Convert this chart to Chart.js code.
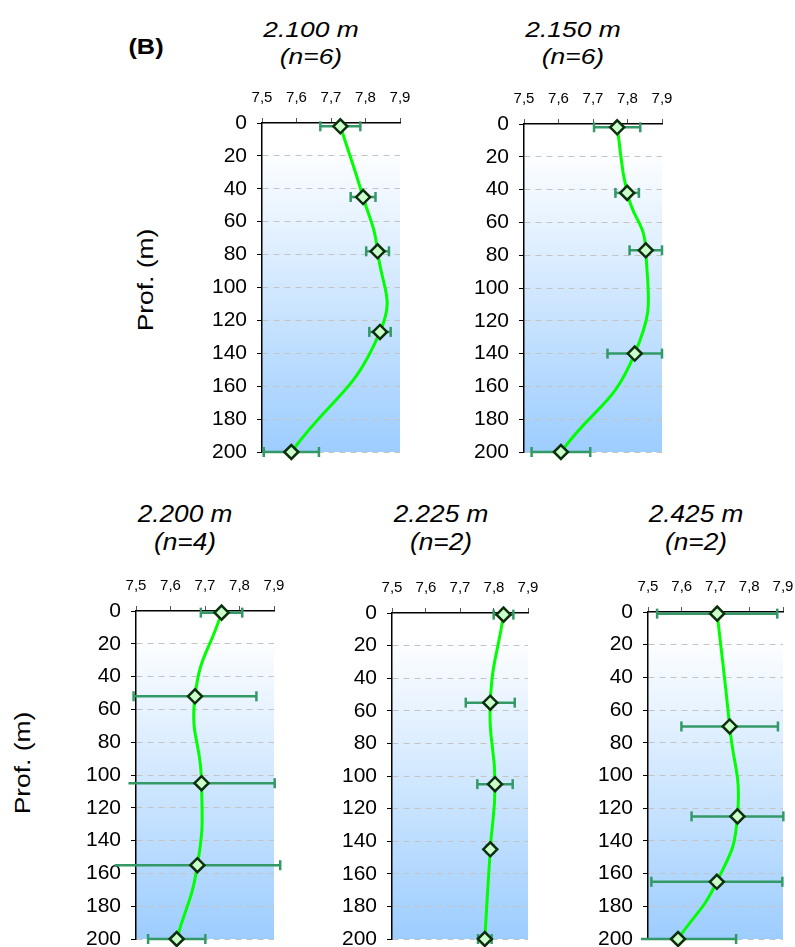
<!DOCTYPE html>
<html>
<head>
<meta charset="utf-8">
<script src="https://cdn.jsdelivr.net/npm/chart.js@4.4.0/dist/chart.umd.min.js"></script>
<style>
html, body { margin: 0; padding: 0; background: #fff; overflow: hidden; }
body { width: 795px; height: 947px; position: relative; font-family: "Liberation Sans", Arial, sans-serif; color: #000; }
.lbl { position: absolute; white-space: nowrap; transform-origin: center center; }
.title { font-style: italic; text-align: center; }
</style>
</head>
<body>
<script>
// pH profiles, depth 0-200 m
var titles = ['2.100 m', '2.150 m', '2.200 m', '2.225 m', '2.425 m'];
var counts = ['(n=6)', '(n=6)', '(n=4)', '(n=2)', '(n=2)'];

var depth2100 = [2, 45, 78, 127, 200];
var ph2100 = [7.727, 7.793, 7.835, 7.842, 7.585];
var sd2100 = [0.058, 0.036, 0.033, 0.031, 0.080];

var depth2150 = [2, 42, 77, 140, 200];
var ph2150 = [7.770, 7.799, 7.853, 7.821, 7.607];
var sd2150 = [0.067, 0.034, 0.047, 0.079, 0.085];

var depth2200 = [1, 52, 105, 155, 200];
var ph2200 = [7.748, 7.671, 7.690, 7.678, 7.618];
var sd2200 = [0.060, 0.178, 0.212, 0.240, 0.083];

var depth2225 = [1, 55, 105, 145, 200];
var ph2225 = [7.828, 7.789, 7.803, 7.789, 7.773];
var sd2225 = [0.029, 0.072, 0.052, 0.010, 0.020];

var depth2425 = [1, 70, 125, 165, 200];
var ph2425 = [7.705, 7.742, 7.765, 7.704, 7.589];
var sd2425 = [0.178, 0.143, 0.136, 0.194, 0.172];

var series = [
    { depth: depth2100, ph: ph2100, sd: sd2100 },
    { depth: depth2150, ph: ph2150, sd: sd2150 },
    { depth: depth2200, ph: ph2200, sd: sd2200 },
    { depth: depth2225, ph: ph2225, sd: sd2225 },
    { depth: depth2425, ph: ph2425, sd: sd2425 }
];

var phMin = 7.5, phMax = 7.9, phStep = 0.1;
var depthMin = 0, depthMax = 200, depthStep = 20;
var yAxisLabel = 'Prof. (m)';
var panelTag = '(B)';

// layout (px)
var AX = 60, HX = 38, PT = 2, PR = 25, PB = 26;
var panels = [
    { plotL: 262, plotR: 400, plotT: 123, plotB: 452, titleX: 311, row: 0, clipLeft: 7 },
    { plotL: 524, plotR: 662, plotT: 124, plotB: 452, titleX: 573, row: 0, clipLeft: 7 },
    { plotL: 136, plotR: 274, plotT: 611, plotB: 939, titleX: 185, row: 1, clipLeft: 26 },
    { plotL: 392, plotR: 528, plotT: 613, plotB: 939, titleX: 441, row: 1, clipLeft: 7 },
    { plotL: 648, plotR: 783, plotT: 612, plotB: 939, titleX: 696, row: 1, clipLeft: 7 }
];

var colors = {
    line: '#00ff00',
    markerFill: '#ccffcc',
    markerEdge: '#0b300b',
    errBar: '#339966',
    grid: '#c4c4c4',
    top: '#ffffff',
    bottom: '#9dcdff'
};

function addLabel(text, css) {
    var d = document.createElement('div');
    d.className = 'lbl';
    d.textContent = text;
    for (var k in css) d.style[k] = css[k];
    document.body.appendChild(d);
    return d;
}

var plotFill = {
    id: 'plotFill',
    beforeDraw: function(chart) {
        var a = chart.chartArea, ctx = chart.ctx;
        var g = ctx.createLinearGradient(0, a.top, 0, a.bottom);
        g.addColorStop(0, colors.top);
        g.addColorStop(0.07, colors.top);
        g.addColorStop(1, colors.bottom);
        ctx.save();
        ctx.fillStyle = g;
        ctx.fillRect(a.left, a.top, a.right - a.left, a.bottom - a.top);
        ctx.restore();
    }
};

Chart.defaults.font.family = '"Liberation Sans", Arial, sans-serif';
Chart.defaults.color = '#000';

panels.forEach(function(p, idx) {
    var s = series[idx];
    var cv = document.createElement('canvas');
    cv.width = AX + (p.plotR - p.plotL) + PR;
    cv.height = PT + HX + (p.plotB - p.plotT) + PB;
    cv.style.position = 'absolute';
    cv.style.left = (p.plotL - AX) + 'px';
    cv.style.top = (p.plotT - HX - PT) + 'px';
    document.body.appendChild(cv);

    var datasets = [{
        data: s.ph.map(function(v, i) { return { x: v, y: s.depth[i] }; }),
        showLine: true,
        tension: 0.5,
        borderColor: colors.line,
        borderWidth: 3,
        pointStyle: 'rectRot',
        pointRadius: 7,
        pointBackgroundColor: colors.markerFill,
        pointBorderColor: colors.markerEdge,
        pointBorderWidth: 2.5,
        clip: false,
        order: 0
    }];
    s.ph.forEach(function(v, i) {
        datasets.push({
            data: [{ x: v - s.sd[i], y: s.depth[i] }, { x: v + s.sd[i], y: s.depth[i] }],
            showLine: true,
            borderColor: colors.errBar,
            borderWidth: 2.5,
            pointStyle: 'line',
            rotation: 90,
            pointRadius: 5,
            pointBorderColor: colors.errBar,
            pointBorderWidth: 2.5,
            clip: { left: p.clipLeft, top: false, right: false, bottom: false },
            order: 1
        });
    });

    new Chart(cv, {
        type: 'scatter',
        data: { datasets: datasets },
        options: {
            responsive: false,
            animation: false,
            events: [],
            layout: { padding: { left: 0, top: PT, right: PR, bottom: PB } },
            plugins: { legend: { display: false }, tooltip: { enabled: false } },
            scales: {
                x: {
                    type: 'linear', position: 'top', min: phMin, max: phMax,
                    afterFit: function(sc) { sc.height = HX; },
                    ticks: {
                        stepSize: phStep, padding: 11, color: '#000',
                        font: { size: 15 },
                        maxRotation: 0,
                        callback: function(v) { return Number(v).toFixed(1).replace('.', ','); }
                    },
                    grid: { drawOnChartArea: false, tickLength: 5, tickColor: '#555' },
                    border: { color: '#000', width: 1.5 }
                },
                y: {
                    type: 'linear', position: 'left', reverse: true, min: depthMin, max: depthMax,
                    afterFit: function(sc) { sc.width = AX; },
                    ticks: { stepSize: depthStep, padding: 10, color: '#000', font: { size: 21 } },
                    grid: {
                        color: function(c) { return c.tick && c.tick.value === 0 ? 'rgba(0,0,0,0)' : colors.grid; },
                        tickColor: '#000', tickLength: 5, lineWidth: 1
                    },
                    border: { color: '#000', width: 1.5, dash: [6, 5] }
                }
            }
        },
        plugins: [plotFill]
    });

    var top = p.row === 0 ? 16 : 500;
    var fs = p.row === 0 ? 22 : 23;
    var lh = p.row === 0 ? 27 : 28;
    var k = p.row === 0 ? 1.2 : 1.14;
    var t = addLabel('', {
        left: p.titleX + 'px', top: top + 'px', fontSize: fs + 'px', lineHeight: lh + 'px',
        transform: 'translateX(-50%) scaleX(' + k + ')'
    });
    t.classList.add('title');
    t.appendChild(document.createTextNode(titles[idx]));
    t.appendChild(document.createElement('br'));
    t.appendChild(document.createTextNode(counts[idx]));
});

addLabel(panelTag, {
    left: '146px', top: '47px', fontSize: '22px', fontWeight: 'bold', lineHeight: '26px',
    transform: 'translate(-50%, -50%) scaleX(1.15)'
});
addLabel(yAxisLabel, {
    left: '146px', top: '280px', fontSize: '22px', lineHeight: '26px',
    transform: 'translate(-50%, -50%) rotate(-90deg) scaleX(1.2)'
});
addLabel(yAxisLabel, {
    left: '23px', top: '763px', fontSize: '22px', lineHeight: '26px',
    transform: 'translate(-50%, -50%) rotate(-90deg) scaleX(1.2)'
});
</script>
</body>
</html>
